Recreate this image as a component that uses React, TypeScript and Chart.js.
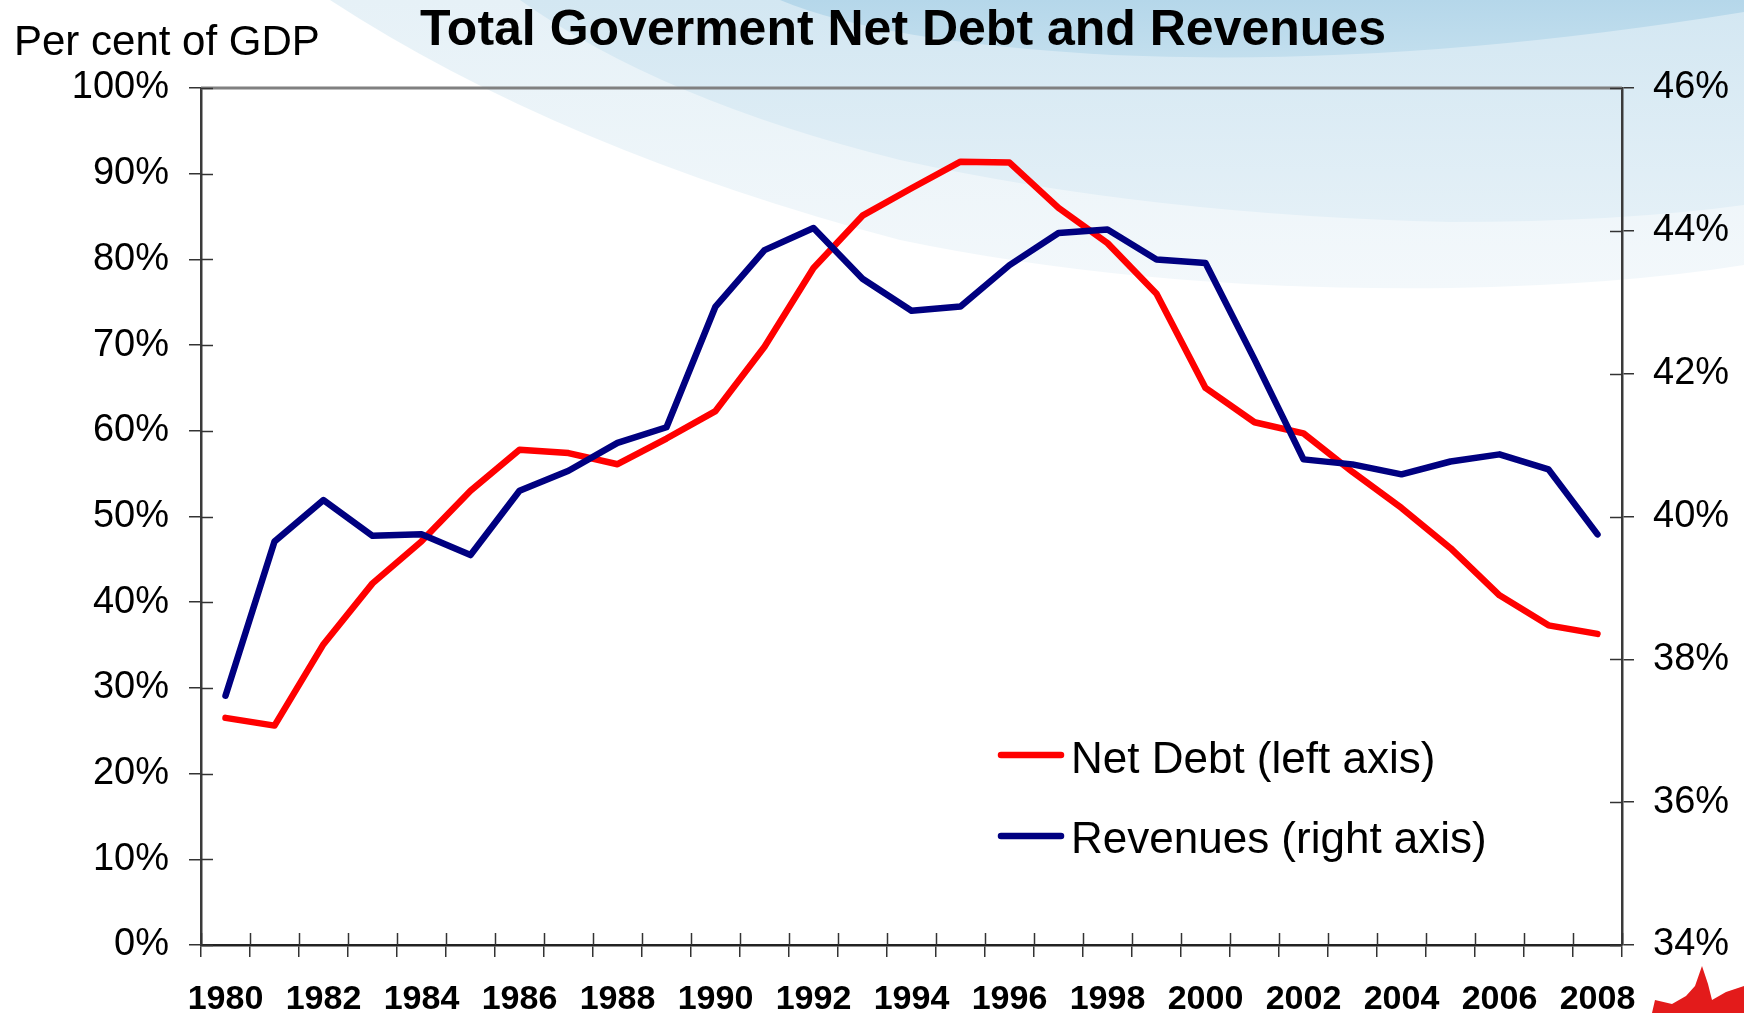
import React, { useEffect, useRef } from "react";
import { Chart, registerables } from "chart.js";

Chart.register(...registerables);

const FONT = "'Liberation Sans', Arial, sans-serif";

const TITLE = "Total Goverment Net Debt and Revenues";
const Y_TITLE = "Per cent of GDP";

const years = [
  "1980", "1981", "1982", "1983", "1984", "1985", "1986", "1987", "1988", "1989",
  "1990", "1991", "1992", "1993", "1994", "1995", "1996", "1997", "1998", "1999",
  "2000", "2001", "2002", "2003", "2004", "2005", "2006", "2007", "2008",
];

const netDebt = [
  26.5, 25.6, 35.1, 42.2, 47.1, 53.0, 57.8, 57.4, 56.1, 59.1,
  62.3, 69.8, 79.0, 85.1, 88.3, 91.4, 91.3, 86.0, 81.9, 76.0,
  65.0, 61.0, 59.7, 55.2, 51.0, 46.3, 40.8, 37.3, 36.3,
];

const revenues = [
  37.49, 39.65, 40.23, 39.73, 39.75, 39.46, 40.36, 40.64, 41.03, 41.25,
  42.94, 43.73, 44.04, 43.33, 42.88, 42.94, 43.52, 43.97, 44.02, 43.6,
  43.55, 42.2, 40.8, 40.73, 40.59, 40.77, 40.87, 40.66, 39.75,
];

const seriesNames = ["Net Debt (left axis)", "Revenues (right axis)"];
const seriesColors = ["#ff0000", "#000080"];

const leftMin = 0;
const leftMax = 100;
const leftStep = 10;
const rightMin = 34;
const rightMax = 46;
const rightStep = 2;

const AXIS_COLOR = "#333333";

const backgroundPlugin = {
  id: "bgDecor",
  beforeDraw(chart: any) {
    const { ctx, width, height } = chart;
    ctx.save();
    ctx.fillStyle = "#ffffff";
    ctx.fillRect(0, 0, width, height);

    // light band
    let g = ctx.createLinearGradient(0, 0, 0, 290);
    g.addColorStop(0, "#e6f1f7");
    g.addColorStop(1, "#f3f8fb");
    ctx.fillStyle = g;
    ctx.beginPath();
    ctx.moveTo(330, 0);
    ctx.quadraticCurveTo(560, 150, 900, 240);
    ctx.quadraticCurveTo(1150, 292, 1450, 288);
    ctx.quadraticCurveTo(1620, 285, width, 265);
    ctx.lineTo(width, 0);
    ctx.closePath();
    ctx.fill();

    // medium band
    g = ctx.createLinearGradient(0, 0, 0, 222);
    g.addColorStop(0, "#d3e7f2");
    g.addColorStop(1, "#e4f0f7");
    ctx.fillStyle = g;
    ctx.beginPath();
    ctx.moveTo(520, 0);
    ctx.quadraticCurveTo(660, 100, 900, 160);
    ctx.quadraticCurveTo(1150, 215, 1450, 222);
    ctx.quadraticCurveTo(1620, 222, width, 205);
    ctx.lineTo(width, 0);
    ctx.closePath();
    ctx.fill();

    // dark band
    g = ctx.createLinearGradient(0, 0, 0, 60);
    g.addColorStop(0, "#b5d7ea");
    g.addColorStop(1, "#c3dfee");
    ctx.fillStyle = g;
    ctx.beginPath();
    ctx.moveTo(780, 0);
    ctx.quadraticCurveTo(880, 42, 1112, 55);
    ctx.quadraticCurveTo(1400, 68, width, 12);
    ctx.lineTo(width, 0);
    ctx.closePath();
    ctx.fill();

    // maple leaf (partially visible)
    ctx.fillStyle = "#e31b1b";
    ctx.beginPath();
    ctx.moveTo(1702, 966);
    ctx.lineTo(1708, 984);
    ctx.lineTo(1712, 1000);
    ctx.lineTo(1726, 992);
    ctx.lineTo(1744, 986);
    ctx.lineTo(1744, 1013);
    ctx.lineTo(1652, 1013);
    ctx.lineTo(1655, 1000);
    ctx.lineTo(1672, 1004);
    ctx.lineTo(1686, 996);
    ctx.lineTo(1695, 986);
    ctx.closePath();
    ctx.fill();

    // texts
    ctx.fillStyle = "#000000";
    ctx.textBaseline = "alphabetic";
    ctx.font = `bold 50px ${FONT}`;
    ctx.textAlign = "center";
    ctx.fillText(TITLE, 903, 45);
    ctx.font = `42px ${FONT}`;
    ctx.textAlign = "left";
    ctx.fillText(Y_TITLE, 14, 55);
    ctx.restore();
  },
  beforeDatasetsDraw(chart: any) {
    const { ctx, chartArea } = chart;
    const { left, right, top, bottom } = chartArea;
    ctx.save();
    // top border line
    ctx.strokeStyle = "#808080";
    ctx.lineWidth = 3;
    ctx.beginPath();
    ctx.moveTo(left, top);
    ctx.lineTo(right, top);
    ctx.stroke();

    ctx.strokeStyle = AXIS_COLOR;
    ctx.lineWidth = 1.5;
    const yS = chart.scales.y;
    yS.ticks.forEach((t: any) => {
      const p = Math.round(yS.getPixelForValue(t.value)) + 0.5;
      ctx.beginPath();
      ctx.moveTo(left, p);
      ctx.lineTo(left + 12, p);
      ctx.stroke();
    });
    const y1S = chart.scales.y1;
    y1S.ticks.forEach((t: any) => {
      const p = Math.round(y1S.getPixelForValue(t.value)) + 0.5;
      ctx.beginPath();
      ctx.moveTo(right - 12, p);
      ctx.lineTo(right, p);
      ctx.stroke();
    });
    const xS = chart.scales.x;
    const n = years.length;
    const half = (xS.getPixelForValue(1) - xS.getPixelForValue(0)) / 2;
    for (let i = 0; i <= n; i++) {
      const p = Math.round(xS.getPixelForValue(Math.min(i, n - 1)) + (i === n ? half : -half)) + 0.5;
      ctx.beginPath();
      ctx.moveTo(p, bottom - 12);
      ctx.lineTo(p, bottom);
      ctx.stroke();
    }
    ctx.restore();
  },
  afterDraw(chart: any) {
    const { ctx } = chart;
    ctx.save();
    const rows = [755, 836];
    const baselines = [773, 853];
    chart.data.datasets.forEach((ds: any, i: number) => {
      ctx.strokeStyle = ds.borderColor;
      ctx.lineWidth = 6.5;
      ctx.lineCap = "round";
      ctx.beginPath();
      ctx.moveTo(1001, rows[i]);
      ctx.lineTo(1061, rows[i]);
      ctx.stroke();
      ctx.fillStyle = "#000000";
      ctx.font = `44px ${FONT}`;
      ctx.textAlign = "left";
      ctx.textBaseline = "alphabetic";
      ctx.fillText(ds.label, 1071, baselines[i]);
    });
    ctx.restore();
  },
};

export default function App() {
  const ref = useRef<HTMLCanvasElement | null>(null);

  useEffect(() => {
    if (!ref.current) return;
    const chart = new Chart(ref.current, {
      type: "line",
      data: {
        labels: years,
        datasets: [
          {
            label: seriesNames[0],
            data: netDebt,
            borderColor: seriesColors[0],
            backgroundColor: seriesColors[0],
            borderWidth: 6.5,
            pointRadius: 0,
            tension: 0,
            borderJoinStyle: "round",
            borderCapStyle: "round",
            yAxisID: "y",
            order: 2,
          },
          {
            label: seriesNames[1],
            data: revenues,
            borderColor: seriesColors[1],
            backgroundColor: seriesColors[1],
            borderWidth: 6.5,
            pointRadius: 0,
            tension: 0,
            borderJoinStyle: "round",
            borderCapStyle: "round",
            yAxisID: "y1",
            order: 1,
          },
        ],
      },
      options: {
        responsive: false,
        animation: false,
        layout: { padding: { top: 88, left: 0, right: 0, bottom: 0 } },
        plugins: {
          legend: { display: false },
          title: { display: false },
          tooltip: { enabled: false },
        },
        scales: {
          x: {
            type: "category",
            offset: true,
            grid: {
              offset: true,
              drawOnChartArea: false,
              drawTicks: true,
              tickLength: 12,
              color: AXIS_COLOR,
              lineWidth: 1.5,
            },
            border: { display: true, color: "#222222", width: 2.5 },
            ticks: {
              autoSkip: false,
              maxRotation: 0,
              minRotation: 0,
              padding: 22,
              color: "#000000",
              font: { family: FONT, size: 34, weight: "bold" },
              callback: (_v: any, idx: number) => (idx % 2 === 0 ? years[idx] : ""),
            },
            afterFit: (s: any) => {
              s.height = 68;
            },
          },
          y: {
            position: "left",
            min: leftMin,
            max: leftMax,
            grid: {
              drawOnChartArea: false,
              tickLength: 12,
              color: AXIS_COLOR,
              lineWidth: 1.5,
            },
            border: { display: true, color: "#3a3a3a", width: 2.5 },
            ticks: {
              stepSize: leftStep,
              padding: 20,
              color: "#000000",
              font: { family: FONT, size: 38 },
              callback: (v: any) => `${v}%`,
            },
            afterFit: (s: any) => {
              s.width = 201;
            },
          },
          y1: {
            position: "right",
            min: rightMin,
            max: rightMax,
            grid: {
              drawOnChartArea: false,
              tickLength: 12,
              color: AXIS_COLOR,
              lineWidth: 1.5,
            },
            border: { display: true, color: "#3a3a3a", width: 2.5 },
            ticks: {
              stepSize: rightStep,
              padding: 19,
              color: "#000000",
              font: { family: FONT, size: 38 },
              callback: (v: any) => `${v}%`,
            },
            afterFit: (s: any) => {
              s.width = 122;
            },
          },
        },
      } as any,
      plugins: [backgroundPlugin],
    });
    return () => chart.destroy();
  }, []);

  return (
    <div style={{ position: "fixed", left: 0, top: 0, width: 1744, height: 1013 }}>
      <canvas ref={ref} width={1744} height={1013} style={{ display: "block" }} />
    </div>
  );
}
